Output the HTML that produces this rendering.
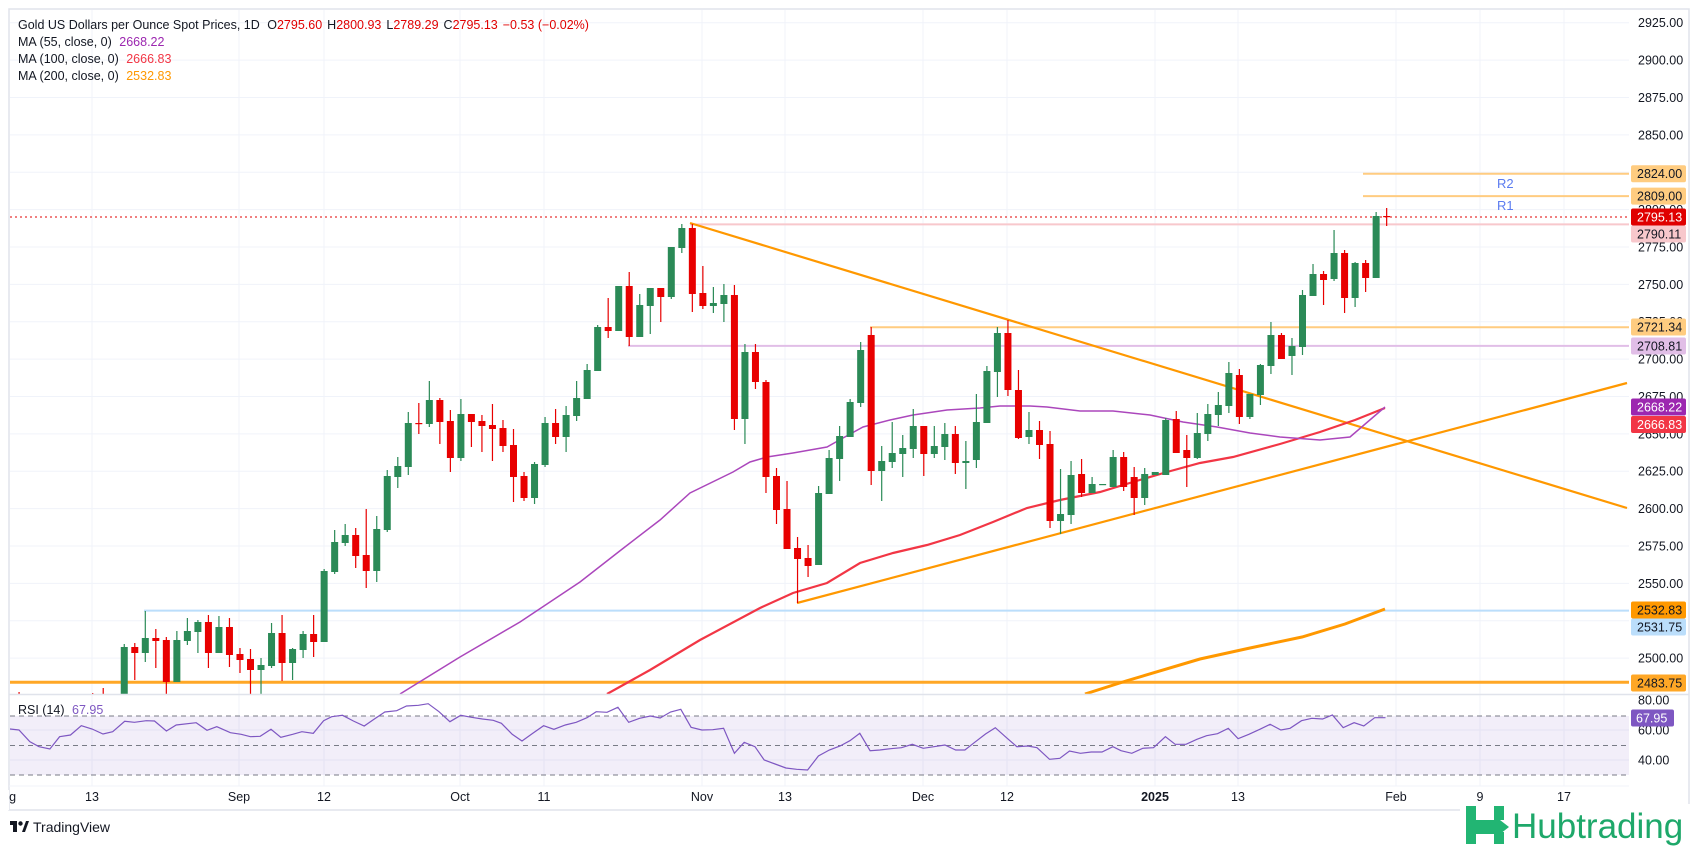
<!DOCTYPE html>
<html><head><meta charset="utf-8"><style>
html,body{margin:0;padding:0;background:#fff;}
svg{display:block;font-family:"Liberation Sans",sans-serif;}
</style></head><body>
<svg id="s" width="1700" height="846" viewBox="0 0 1700 846" xmlns="http://www.w3.org/2000/svg">
<defs>
<clipPath id="main"><rect x="10" y="10" width="1619" height="684"/></clipPath>
<clipPath id="rsi"><rect x="10" y="695" width="1619" height="95"/></clipPath>
</defs>
<rect x="0" y="0" width="1700" height="846" fill="#fff"/>
<g id="grid" stroke="#f0f3fa" stroke-width="1"></g>
<!-- RSI band -->
<rect x="10" y="716" width="1619" height="59" fill="#7e57c2" fill-opacity="0.1"/>
<g stroke="#787b86" stroke-width="1" stroke-dasharray="5,4" fill="none">
<line x1="10" y1="716" x2="1629" y2="716"/>
<line x1="10" y1="745.5" x2="1629" y2="745.5"/>
<line x1="10" y1="775" x2="1629" y2="775"/>
</g>
<g clip-path="url(#main)" fill="none">
<line x1="10" y1="682.3" x2="1629" y2="682.3" stroke="#ffa726" stroke-width="3"/>
<line x1="144" y1="610.6" x2="1629" y2="610.6" stroke="#bbdefb" stroke-width="2"/>
<line x1="628" y1="345.9" x2="1629" y2="345.9" stroke="#e1bee7" stroke-width="2"/>
<line x1="870" y1="327.2" x2="1629" y2="327.2" stroke="#ffcc80" stroke-width="2"/>
<line x1="1363" y1="173.7" x2="1629" y2="173.7" stroke="#ffcc80" stroke-width="2"/>
<line x1="1363" y1="196.1" x2="1629" y2="196.1" stroke="#ffcc80" stroke-width="2"/>
<line x1="690" y1="224.4" x2="1629" y2="224.4" stroke="#f8c8cc" stroke-width="2"/>
<line x1="10" y1="217" x2="1629" y2="217" stroke="#e00000" stroke-width="1" stroke-dasharray="2,3"/>
<line x1="690" y1="223" x2="1627" y2="508" stroke="#ff9800" stroke-width="2.2"/>
<line x1="797" y1="603" x2="1627" y2="383" stroke="#ff9800" stroke-width="2.2"/>
<polyline stroke="#ff9800" stroke-width="3" points="1085,694 1126,681 1200,659 1250,648 1302,637 1345,624 1385,609"/>
<polyline stroke="#f23645" stroke-width="2.2" points="607,694 650,670 700,640 760,608 793,593 827,583 860,563 893,553 927,545 960,535 993,522 1027,508 1060,500 1100,492 1133,482 1167,472 1200,463 1233,457 1280,444 1320,432 1355,420 1385,408"/>
<polyline stroke="#ab47bc" stroke-width="1.5" points="400,694 460,657 520,622 580,582 621,550 660,520 690,493 733,472 750,462 767,457 793,453 827,447 843,438 863,427 890,420 913,415 947,410 980,408 1000,406 1030,406 1047,407 1080,411 1113,411 1150,415 1183,422 1217,427 1250,433 1280,437 1320,440 1350,437 1385,407"/>
<g id="candles"></g>
</g>
<text x="1497" y="188" font-size="13" fill="#5b7cf0">R2</text>
<text x="1497" y="210" font-size="13" fill="#5b7cf0">R1</text>
<polyline id="rsil" clip-path="url(#rsi)" fill="none" stroke="#7e57c2" stroke-width="1.2" points=""/>
<!-- frame -->
<rect x="9" y="9" width="1680" height="801" fill="none" stroke="#e0e3eb" stroke-width="1.5"/>
<line x1="9" y1="694.5" x2="1689" y2="694.5" stroke="#e0e3eb" stroke-width="1.5"/>
<line x1="9" y1="786" x2="1629" y2="786" stroke="#f0f3fa" stroke-width="1"/>
<!-- header -->
<g font-size="12.5" fill="#131722">
<text x="18" y="29">Gold US Dollars per Ounce Spot Prices, 1D <tspan dx="4">O</tspan><tspan fill="#e00000">2795.60</tspan><tspan dx="5">H</tspan><tspan fill="#e00000">2800.93</tspan><tspan dx="5">L</tspan><tspan fill="#e00000">2789.29</tspan><tspan dx="5">C</tspan><tspan fill="#e00000">2795.13</tspan><tspan dx="5" fill="#e00000">−0.53 (−0.02%)</tspan></text>
<text x="18" y="46">MA (55, close, 0) <tspan dx="4" fill="#9c27b0">2668.22</tspan></text>
<text x="18" y="63">MA (100, close, 0) <tspan dx="4" fill="#f23645">2666.83</tspan></text>
<text x="18" y="80">MA (200, close, 0) <tspan dx="4" fill="#ff9800">2532.83</tspan></text>
<text x="18" y="714">RSI (14) <tspan dx="4" fill="#7e57c2">67.95</tspan></text>
</g>
<g id="axis" font-size="12.5" fill="#131722"></g>
<g id="tags" font-size="12.5"></g>
<g font-size="12.5" fill="#131722" text-anchor="middle">
<text x="5" y="801">Aug</text><text x="92" y="801">13</text><text x="239" y="801">Sep</text><text x="324" y="801">12</text>
<text x="460" y="801">Oct</text><text x="544" y="801">11</text><text x="702" y="801">Nov</text><text x="785" y="801">13</text>
<text x="923" y="801">Dec</text><text x="1007" y="801">12</text><text x="1155" y="801" font-weight="bold">2025</text><text x="1238" y="801">13</text>
<text x="1396" y="801">Feb</text><text x="1480" y="801">9</text><text x="1564" y="801">17</text>
</g>
<rect x="0" y="790" width="9" height="20" fill="#fff"/>
<!-- TradingView -->
<g transform="translate(10,821)">
<rect x="0" y="0" width="7" height="4" fill="#131722"/><rect x="3" y="0" width="4" height="11" fill="#131722"/>
<circle cx="10.5" cy="2.5" r="2.2" fill="#131722"/><polygon points="12,11 16,0 19,0 15,11" fill="#131722"/>
</g>
<text x="33" y="832" font-size="14" fill="#131722">TradingView</text>
<!-- Hubtrading -->
<rect x="1460" y="804" width="240" height="42" fill="#fff"/>
<g fill="#22b573">
<rect x="1466" y="806" width="10" height="38"/>
<rect x="1494" y="806" width="10" height="14"/>
<polygon points="1476,820 1500,820 1509,827 1500,834 1476,834"/>
<rect x="1494" y="832" width="10" height="12"/>
</g>
<text x="1512" y="838" font-size="35" fill="#1ea86a">Hubtrading</text>
<script>
(function(){
var NS="http://www.w3.org/2000/svg";
function el(t,a,p){var e=document.createElementNS(NS,t);for(var k in a)e.setAttribute(k,a[k]);p.appendChild(e);return e;}
function Y(p){return 22.7+(2925-p)*1.495;}
var g=document.getElementById('grid');
for(var p=2500;p<=2925;p+=25){el('line',{x1:10,y1:Y(p),x2:1629,y2:Y(p)},g);}
[730,760].forEach(function(y){el('line',{x1:10,y1:y,x2:1629,y2:y},g);});
[92,239,324,460,544,702,785,923,1007,1155,1238,1396,1480,1564].forEach(function(x){el('line',{x1:x,y1:10,x2:x,y2:786},g);});
var ax=document.getElementById('axis');
for(var p=2500;p<=2925;p+=25){var t=el('text',{x:1638,y:Y(p)+4.5},ax);t.textContent=p.toFixed(2);}
[[80,700],[60,730],[40,760]].forEach(function(a){var t=el('text',{x:1638,y:a[1]+4.5},ax);t.textContent=a[0].toFixed(2);});
var tags=[["2824.00",173.7,"#ffcc80","#131722"],["2809.00",196.1,"#ffcc80","#131722"],["2795.13",217,"#e00000","#fff"],["2790.11",234,"#f8c8cc","#131722"],["2721.34",327,"#ffcc80","#131722"],["2708.81",346,"#e1bee7","#131722"],["2668.22",407,"#9c27b0","#fff"],["2666.83",424.5,"#f23645","#fff"],["2532.83",610,"#ff9800","#131722"],["2531.75",627,"#bbdefb","#131722"],["2483.75",683,"#ffa726","#131722"]];
var tg=document.getElementById('tags');
tags.forEach(function(a){el('rect',{x:1631,y:a[1]-8.5,width:55,height:17,rx:2,fill:a[2]},tg);var t=el('text',{x:1637,y:a[1]+4.5,fill:a[3]},tg);t.textContent=a[0];});
el('rect',{x:1631,y:709.5,width:43,height:17,rx:2,fill:"#7e57c2"},tg);var t=el('text',{x:1636,y:722.5,fill:"#fff"},tg);t.textContent="67.95";
var D=[[-12,0,705,715,692,720],[-5,0,705,715,693,720],[-4,0,705,715,688,720],[-2,1,647,720,644,730],[-1,0,647,653,643,680],[0,1,638,653,611,662],[1,0,638,641,629,668],[2,0,640,682,637,694],[3,1,640,682,631,682],[4,1,631,641,618,645],[5,1,622,632,620,653],[6,0,622,653,615,668],[7,1,627,653,616,653],[8,0,627,655,618,667],[9,0,654,660,648,673],[10,0,659,670,649,694],[11,1,665,670,658,694],[12,1,633,666,623,668],[13,0,633,663,615,681],[14,1,649,663,648,680],[15,1,634,650,631,658],[16,0,634,642,615,657],[17,1,571,642,569,642],[18,1,542,572,530,574],[19,1,535,543,524,546],[20,0,535,556,528,568],[21,0,555,571,509,588],[22,1,529,571,516,582],[23,1,476,530,470,532],[24,1,466,477,457,488],[25,1,423,467,412,475],[26,0,423,424,403,434],[27,1,400,424,381,427],[28,0,400,422,398,444],[29,0,421,458,410,472],[30,1,414,458,399,461],[31,0,414,422,414,447],[32,0,421,426,415,452],[33,0,425,429,404,461],[34,0,428,446,420,452],[35,0,445,477,429,502],[36,0,476,498,472,501],[37,1,464,498,462,504],[38,1,423,465,417,467],[39,0,423,437,409,444],[40,1,415,437,406,452],[41,1,398,416,381,421],[42,1,370,399,364,399],[43,1,327,371,325,371],[44,0,327,331,298,338],[45,1,286,331,286,331],[46,0,286,337,272,346],[47,1,305,337,294,337],[48,1,288,306,288,334],[49,0,288,297,288,322],[50,1,247,297,247,299],[51,1,228,248,224,253],[52,0,228,294,224,312],[53,0,293,306,266,309],[54,1,303,306,287,313],[55,1,295,304,284,322],[56,0,295,419,285,430],[57,1,352,419,344,444],[58,0,352,382,344,389],[59,0,382,477,380,493],[60,0,476,510,468,524],[61,0,509,549,481,549],[62,0,548,559,537,603],[63,0,558,566,545,577],[64,1,493,565,486,565],[65,1,458,494,450,494],[66,1,436,459,426,481],[67,1,402,437,399,437],[68,1,350,403,342,407],[69,0,335,471,327,485],[70,1,461,471,446,501],[71,1,453,462,422,468],[72,1,448,454,435,477],[73,1,426,449,409,458],[74,0,426,454,426,476],[75,1,446,454,426,458],[76,1,434,447,423,460],[77,0,434,463,426,474],[78,1,461,463,441,489],[79,1,422,460,394,468],[80,1,371,423,366,423],[81,1,333,372,327,397],[82,0,333,390,320,396],[83,0,390,438,370,439],[84,1,430,437,412,444],[85,0,430,445,421,459],[86,0,444,521,431,528],[87,1,514,521,469,534],[88,1,475,515,461,524],[89,0,474,493,459,497],[90,1,484,493,477,493],[91,1,484,485,484,485],[92,1,457,487,450,487],[93,0,457,487,452,491],[94,0,477,498,467,515],[95,1,474,498,468,505],[96,1,472,475,472,475],[97,1,420,475,418,475],[98,0,419,453,411,453],[99,0,450,458,435,487],[100,1,433,458,413,459],[101,1,414,434,404,441],[102,1,405,415,392,426],[103,1,373,406,362,413],[104,0,375,417,369,424],[105,1,394,417,394,419],[106,1,365,395,364,405],[107,1,335,366,322,374],[108,0,335,359,333,359],[109,1,346,356,338,375],[110,1,295,347,290,355],[111,1,274,296,264,296],[112,0,274,280,271,305],[113,1,253,279,230,281],[114,0,253,298,250,313],[115,1,263,298,262,307],[116,0,263,278,260,292],[117,1,216,278,212,278],[118,0,216,217,208,226]];
var cg=document.getElementById('candles');
D.forEach(function(c){var x=145.3+10.52*c[0];var col=c[1]?"#2b8a57":"#e80000";
el('rect',{x:x-0.6,y:c[4],width:1.2,height:Math.max(1,c[5]-c[4]),fill:col},cg);
el('rect',{x:x-3.5,y:c[2],width:7,height:Math.max(1.2,c[3]-c[2]),fill:col},cg);});
var r6=[[18,147],[35,150],[55,185],[72,200],[92,207],[110,170],[130,165],[150,137],[170,147],[190,162],[208,155],[230,124],[248,127],[270,122],[285,123],[307,153],[325,135],[362,128],[382,151],[400,140],[425,158],[445,163],[462,170],[480,169],[500,148],[518,172],[540,163],[557,155],[578,160],[597,122],[612,110],[632,106],[652,123],[672,138],[690,118],[710,96],[732,92],[750,78],[772,76],[790,71],[810,95],[830,125],[850,106],[870,112],[890,117],[910,121],[925,130],[945,163],[963,183],[983,160],[1003,137],[1022,148],[1043,135],[1063,127],[1083,113],[1100,95],[1120,97],[1140,82],[1160,127],[1180,115],[1200,108],[1218,114],[1237,96],[1256,88],[1275,142],[1295,150],[1315,149],[1335,145],[1355,220],[1373,187],[1393,200],[1410,240],[1430,252],[1450,264],[1470,268],[1490,270],[1510,228],[1530,210],[1550,198],[1568,182]];
var r7=[[18,160],[37,212],[55,210],[75,206],[95,203],[115,193],[135,205],[155,200],[175,195],[195,210],[212,210],[230,187],[250,162],[268,143],[290,175],[308,200],[328,198],[345,203],[368,238],[387,235],[405,213],[425,220],[445,216],[465,216],[485,200],[500,212],[520,220],[540,205],[560,203],[582,170],[600,193],[620,193],[640,178],[658,167],[678,161],[698,145],[716,176],[736,163],[756,148],[775,133],[795,150],[812,145],[833,122],[852,115],[872,117],[890,105],[910,143],[930,128],[948,138],[968,113],[988,113]];
var pts=[];
r6.forEach(function(p){pts.push((p[0]/1.845).toFixed(1)+","+(680+p[1]/3).toFixed(1));});
r7.forEach(function(p){pts.push((850+p[0]/1.845).toFixed(1)+","+(680+p[1]/3).toFixed(1));});
document.getElementById('rsil').setAttribute('points',pts.join(' '));
})();
</script>
</svg>
</body></html>
